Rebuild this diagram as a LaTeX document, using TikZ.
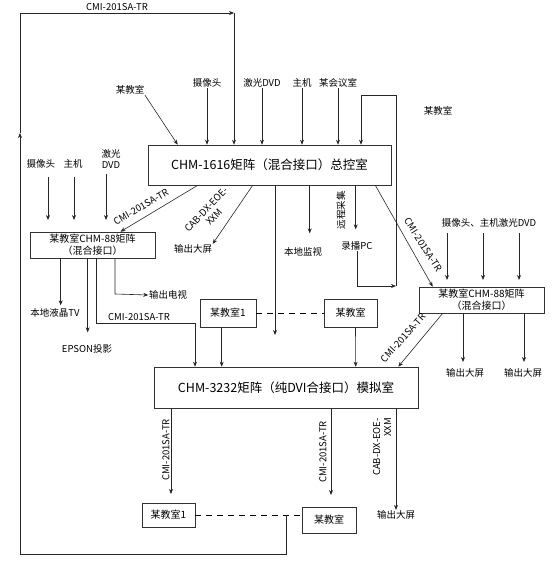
\documentclass[tikz,border=0pt]{standalone}
\usepackage{fontspec}
\setmainfont{Noto Sans CJK SC}
\usetikzlibrary{arrows.meta,calc}
\begin{document}
\begin{tikzpicture}[x=1pt,y=-1pt,
  box/.style={draw=black!80, line width=0.6pt, inner sep=1pt, align=center, font=\fontsize{10}{12}\selectfont},
  bigbox/.style={box, font=\fontsize{12.5}{14}\selectfont},
  lbl/.style={inner sep=0.5pt, align=center, font=\fontsize{9.5}{11}\selectfont},
  ln/.style={line width=0.6pt, draw=black!85},
  ar/.style={ln, -{Stealth[length=5pt,width=4pt]}},
  dsh/.style={line width=0.7pt, dash pattern=on 6pt off 5pt}]
\useasboundingbox (0,0) rectangle (553,565);

% ---------- boxes ----------
\node[bigbox, minimum width=243pt, minimum height=40pt] (m16) at (269.5,165) {CHM-1616矩阵（混合接口）总控室};
\node[box, minimum width=125pt, minimum height=26pt] (l88) at (92.5,245) {某教室CHM-88矩阵\\（混合接口）};
\node[box, minimum width=125pt, minimum height=26pt] (r88) at (481.5,300) {某教室CHM-88矩阵\\（混合接口）};
\node[box, minimum width=56pt, minimum height=28pt] (k1m) at (228,313) {某教室1};
\node[box, minimum width=53pt, minimum height=28pt] (k2m) at (350.5,313) {某教室};
\node[bigbox, minimum width=264pt, minimum height=41pt] (m32) at (286,387.5) {CHM-3232矩阵（纯DVI合接口）模拟室};
\node[box, minimum width=53pt, minimum height=24pt] (k1b) at (168.5,515) {某教室1};
\node[box, minimum width=54pt, minimum height=26pt] (k2b) at (329,520) {某教室};

% ---------- top labels ----------
\node[lbl] (kt) at (130,90) {某教室};
\node[lbl] (c1) at (207,83) {摄像头};
\node[lbl] (c2) at (262,83) {激光DVD};
\node[lbl] (c3) at (302,83) {主机};
\node[lbl] (c4) at (338,83) {某会议室};
\node[lbl] (kr) at (438,111) {某教室};
\node[lbl] (ttop) at (117,7) {CMI-201SA-TR};

% inputs to 1616
\draw[ar] (kt.south east) -- ($(m16.north west)+(30,0)$);
\draw[ar] (c1.south) -- (c1.south |- m16.north);
\draw[ar] (c2.south) -- (c2.south |- m16.north);
\draw[ar] (c3.south) -- (c3.south |- m16.north);
\draw[ar] (c4.south) -- (c4.south |- m16.north);

% ---------- outputs of 1616 ----------
\node[lbl] (o1) at (193,249) {输出大屏};
\node[lbl] (bd) at (303,252) {本地监视};
\node[lbl] (pc) at (357,246) {录播PC};
\node[lbl, rotate=90] (yc) at (341,210) {远程采集};

\draw[ar] ($(m16.south west)+(50,0)$) -- ($(l88.north)+(28,0)$);
\node[lbl, rotate=30] (t1) at (141,207) {CMI-201SA-TR};
\draw[ar] ($(m16.south west)+(105,0)$) -- (o1.north east);
\node[lbl, rotate=46.6] (t2) at (210,213) {CAB-DX-EOE-\\XXM};
\coordinate (vend) at (275,335);
\draw[ar] (m16.south -| vend) -- (vend);
\draw[ar] ($(m16.south west)+(162,0)$) -- ++(0,48);
\draw[ar] ($(m16.south west)+(208,0)$) -- ++(0,44);
\draw[ar] ($(m16.south east)+(-16,0)$) -- ($(r88.north west)+(14,0)$);
\node[lbl, rotate=-57.5] (t3) at (423,245) {CMI-201SA-TR};

% loop from 录播PC back into 1616
\coordinate (lpC) at (396,286);
\coordinate (lpA) at (396,95);
\coordinate (lpB) at (361,95);
\draw[ar] (pc.south) |- (lpC);
\draw[ar] (lpC) -- (lpA) -- (lpB) -- (lpB |- m16.north);

% ---------- left 88 ----------
\node[lbl] (lc1) at (41,164) {摄像头};
\node[lbl] (lc2) at (73,164) {主机};
\node[lbl] (lc3) at (111,159) {激光\\DVD};
\coordinate (li1) at (48,220);
\coordinate (li2) at (74,220);
\coordinate (li3) at (106,220);
\draw[ar] (li1 |- lc1.south) ++(0,8) -- (li1);
\draw[ar] (li2 |- lc2.south) ++(0,8) -- (li2);
\draw[ar] (li3 |- lc3.south) ++(0,5) -- (li3);

\node[lbl] (ltv) at (55,313) {本地液晶TV};
\node[lbl] (eps) at (87,349) {EPSON投影};
\node[lbl] (lds) at (168,295) {输出电视};
\draw[ar] ($(l88.south west)+(31,0)$) -- ++(0,47);
\draw[ar] ($(l88.south west)+(58,0)$) -- ++(0,74);
\coordinate (lb1) at (96,323);
\coordinate (lb2) at (195,323);
\draw[ar] (l88.south -| lb1) -- (lb1) -- (lb2) -- (lb2 |- m32.north);
\node[lbl] (t4) at (139,317) {CMI-201SA-TR};
\coordinate (lc) at (115,294);
\draw[ar] (l88.south -| lc) -- (lc) -- (lds.west);

% ---------- middle row ----------
\draw[dsh] (k1m.east) -- (k2m.west);
\draw[ar] ($(k1m.south west)+(22,0)$) -- ($(m32.north west)+(68,0)$);
\draw[ar] ($(k2m.south)+(5,0)$) -- ($(m32.north west)+(202,0)$);

% ---------- right 88 ----------
\node[lbl] (ri) at (489,223) {摄像头、主机激光DVD};
\draw[ar] (447,233) -- (447,280);
\draw[ar] (483,233) -- (483,280);
\draw[ar] (519,233) -- (519,280);
\node[lbl] (ro1) at (465,373) {输出大屏};
\node[lbl] (ro2) at (523,373) {输出大屏};
\draw[ar] (r88.south -| 463,0) -- (463,362);
\draw[ar] (r88.south -| 524,0) -- (524,362);
\draw[ar] ($(r88.south west)+(24,0)$) -- ($(m32.north east)+(-20,0)$);
\node[lbl, rotate=48] (t5) at (403,338) {CMI-201SA-TR};

% ---------- 3232 outputs ----------
\draw[ar] (m32.south -| 171,0) -- (171,494);
\node[lbl, rotate=90] (t6) at (166,450) {CMI-201SA-TR};
\draw[ar] (m32.south -| 331,0) -- (331,495);
\node[lbl, rotate=90] (t7) at (323,452) {CMI-201SA-TR};
\node[lbl] (bo) at (396,515) {输出大屏};
\draw[ar] (m32.south -| bo.north) -- (bo.north);
\node[lbl, rotate=90, align=right] (t8) at (382,447) {CAB-DX-EOE-\\XXM};

% ---------- bottom / outer loop ----------
\draw[dsh] (k1b.east) -- (k2b.west |- k1b.east);
\coordinate (bj) at (286,515);
\coordinate (bb) at (286,554);
\coordinate (bl) at (20,554);
\coordinate (lmid) at (20,133);
\coordinate (tl) at (20,13);
\coordinate (tr) at (234,13);
\draw[ar] (bj) -- (bb) -- (bl) -- (lmid);
\draw[ar] (lmid) -- (tl) -- (tr);
\draw[ar] (tr) -- (tr |- m16.north);
\end{tikzpicture}
\end{document}
